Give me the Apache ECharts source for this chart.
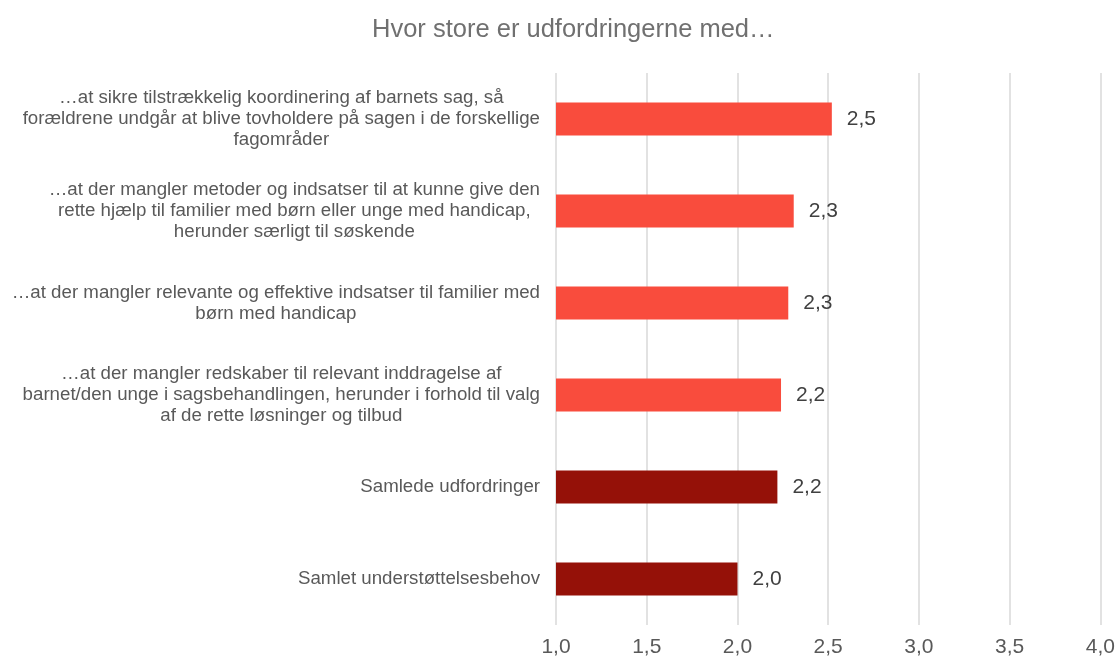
<!DOCTYPE html>
<html>
<head>
<meta charset="utf-8">
<script src="https://cdn.jsdelivr.net/npm/echarts@6/dist/echarts.min.js"></script>
<style>
  html, body { margin: 0; padding: 0; background: #fff; }
  #main { width: 1118px; height: 659px; }
</style>
</head>
<body>
<div id="main"></div>
<script>
// kategorier (top til bund)
var categories = [
    '…at sikre tilstrækkelig koordinering af barnets sag, så\nforældrene undgår at blive tovholdere på sagen i de forskellige\nfagområder',
    '…at der mangler metoder og indsatser til at kunne give den\nrette hjælp til familier med børn eller unge med handicap,\nherunder særligt til søskende',
    '…at der mangler relevante og effektive indsatser til familier med\nbørn med handicap',
    '…at der mangler redskaber til relevant inddragelse af\nbarnet/den unge i sagsbehandlingen, herunder i forhold til valg\naf de rette løsninger og tilbud',
    'Samlede udfordringer',
    'Samlet understøttelsesbehov'
];
var values = [2.52, 2.31, 2.28, 2.24, 2.22, 2.0];
var isTotal = [false, false, false, false, true, true];

window.addEventListener('load', function () {
    var myChart = echarts.init(document.getElementById('main'));
    var font = '"Liberation Sans", Arial, sans-serif';

    var data = values.map(function (v, i) {
        return {
            value: v,
            itemStyle: { color: isTotal[i] ? '#951108' : '#F94C3D' }
        };
    });

    var option = {
        animation: false,
        title: {
            text: 'Hvor store er udfordringerne med…',
            left: 367,
            top: 12,
            textStyle: { fontFamily: font, fontSize: 25.5, fontWeight: 'normal', color: '#707070' }
        },
        grid: { left: 556, right: 14, top: 73, bottom: 34 },
        xAxis: {
            type: 'value',
            min: 1,
            max: 4,
            interval: 0.5,
            axisLine: { show: false },
            axisTick: { show: false },
            splitLine: { lineStyle: { color: '#D9D9D9', width: 1.5 } },
            axisLabel: {
                fontFamily: font,
                fontSize: 21,
                color: '#595959',
                margin: 12,
                formatter: function (v) { return v.toFixed(1).replace('.', ','); }
            }
        },
        yAxis: {
            type: 'category',
            inverse: true,
            data: categories,
            axisLine: { show: false },
            axisTick: { show: false },
            axisLabel: {
                margin: 16,
                formatter: function (v) { return '{c|' + v + '}'; },
                rich: {
                    c: { align: 'center', fontFamily: font, fontSize: 18.7, color: '#595959', lineHeight: 21 }
                }
            }
        },
        series: [{
            type: 'bar',
            data: data,
            barWidth: 33,
            label: {
                show: true,
                position: 'right',
                distance: 15,
                fontFamily: font,
                fontSize: 21,
                color: '#404040',
                formatter: function (p) { return p.value.toFixed(1).replace('.', ','); }
            }
        }]
    };
    myChart.setOption(option);
});
</script>
</body>
</html>
